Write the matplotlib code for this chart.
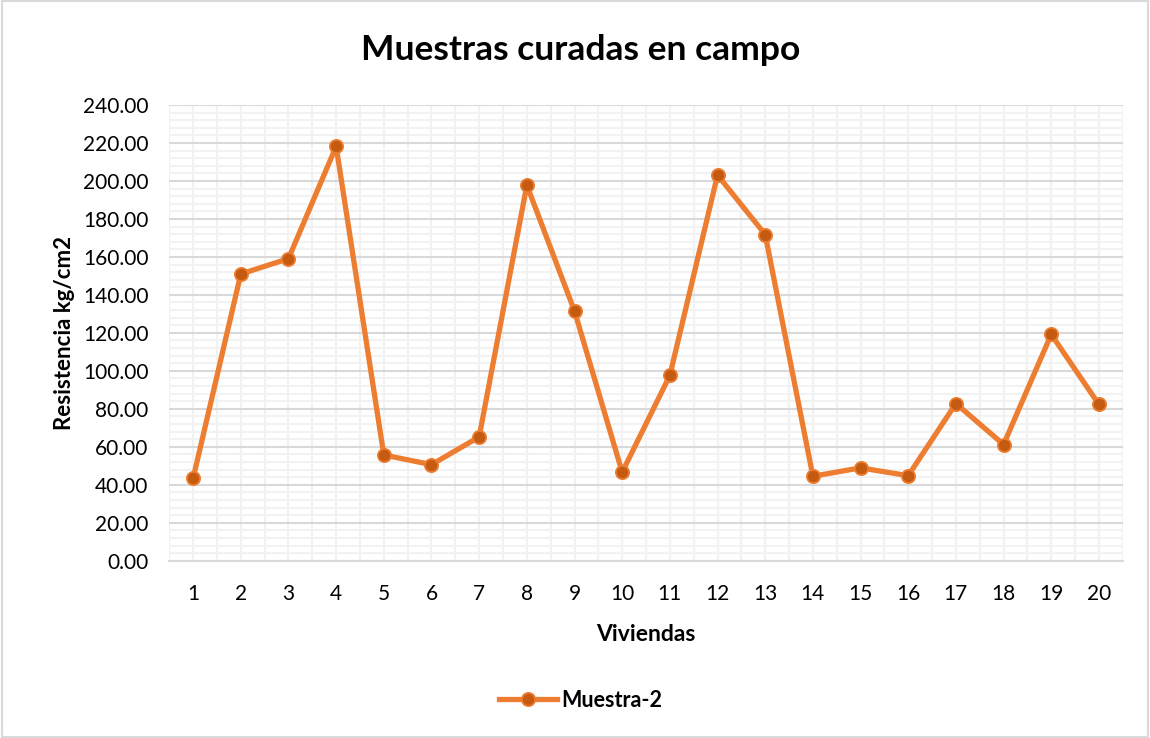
import numpy as np
import matplotlib.pyplot as plt
from matplotlib.patches import Rectangle
from matplotlib.ticker import MultipleLocator, FormatStrFormatter

viviendas = list(range(1, 21))
muestra_2 = [43.4, 151.0, 159.1, 218.2, 55.7, 50.6, 65.2, 197.8, 131.5, 46.6,
             97.6, 203.1, 171.8, 44.5, 48.9, 44.8, 82.8, 61.2, 119.2, 82.3]

plt.rcParams['font.family'] = ['Lato', 'DejaVu Sans']

fig = plt.figure(figsize=(11.5, 7.38), dpi=100)
ax = fig.add_axes([0.1472, 0.2402, 0.8291, 0.6175])

# chart border
fig.patches.append(Rectangle((0.002, 0.002), 0.996, 0.996, transform=fig.transFigure,
                             fill=False, edgecolor='#D9D9D9', linewidth=1.5))

ax.plot(viviendas, muestra_2, color='#ED7D31', linewidth=3.8, marker='o',
        markersize=9.5, markerfacecolor='#C55A11', markeredgecolor='#ED7D31',
        markeredgewidth=1.3, label='Muestra-2', zorder=3)

ax.set_xlim(0.5, 20.5)
ax.set_ylim(0, 240)
ax.set_xticks(viviendas)
ax.xaxis.set_minor_locator(MultipleLocator(0.5))
ax.yaxis.set_major_locator(MultipleLocator(20))
ax.yaxis.set_minor_locator(MultipleLocator(4))
ax.yaxis.set_major_formatter(FormatStrFormatter('%.2f'))

ax.grid(which='minor', color='#F2F2F2', linewidth=1.5, zorder=0)
ax.grid(which='major', axis='x', color='#F2F2F2', linewidth=1.5, zorder=0)
ax.grid(which='major', axis='y', color='#D9D9D9', linewidth=1.5, zorder=1)
ax.set_axisbelow(True)

for s in ['top', 'right', 'left']:
    ax.spines[s].set_visible(False)
ax.spines['bottom'].set_color('#D9D9D9')
ax.spines['bottom'].set_linewidth(1.5)

ax.tick_params(which='both', length=0, labelsize=15, colors='#000000')
ax.tick_params(axis='x', pad=17)
ax.tick_params(axis='y', pad=15)

fig.text(0.505, 0.932, 'Muestras curadas en campo', fontsize=25.5, fontweight='bold',
         ha='center', va='center')
ax.set_xlabel('Viviendas', fontsize=16.5, fontweight='bold', labelpad=14)
ax.set_ylabel('Resistencia kg/cm2', fontsize=16, fontweight='bold', labelpad=6)

fig.legend(loc='center', bbox_to_anchor=(0.505, 0.051), frameon=False,
           prop={'size': 15.5, 'weight': 'bold'}, handlelength=2.7, handletextpad=0.2)

fig.savefig('out.png', dpi=100)
